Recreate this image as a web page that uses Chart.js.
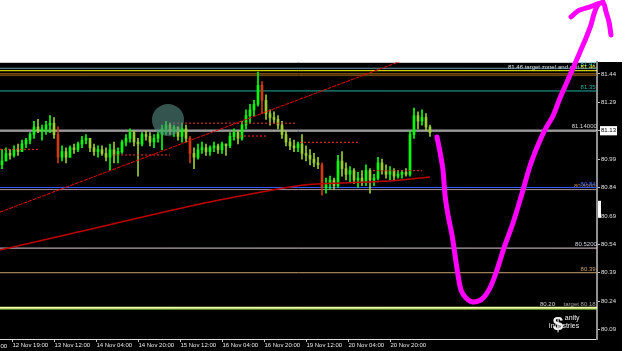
<!DOCTYPE html>
<html>
<head>
<meta charset="utf-8">
<script src="https://cdn.jsdelivr.net/npm/chart.js@4.4.0/dist/chart.umd.min.js"></script>
<style>
  html, body { margin: 0; padding: 0; background: #fff; overflow: hidden; }
  #wrap { width: 625px; height: 351px; }
</style>
</head>
<body>
<div id="wrap"><canvas id="chart" width="625" height="351"></canvas></div>
<script>
// H1 candles, one slot per bar (index 0 = left edge of the window)
const firstOpen = 80.96;
const highs = [
  81.04, 81.05, 81.04, 81.06, 81.07, 81.09, 81.10, 81.13, 81.19, 81.20,
  81.17, 81.19, 81.22, 81.21, 81.16, 81.06, 81.05, 81.06, 81.07, 81.08,
  81.11, 81.12, 81.10, 81.07, 81.06, 81.06, 81.05, 81.07, 81.08, 81.05,
  81.09, 81.12, 81.15, 81.14, 81.10, 81.13, 81.14, 81.13, 81.12, 81.14,
  81.17, 81.19, 81.18, 81.17, 81.16, 81.18, 81.17, 81.11, 81.05, 81.07,
  81.08, 81.07, 81.06, 81.08, 81.07, 81.08, 81.07, 81.13, 81.15, 81.14,
  81.19, 81.25, 81.28, 81.30, 81.45, 81.40, 81.33, 81.25, 81.24, 81.22,
  81.19, 81.14, 81.10, 81.09, 81.08, 81.12, 81.06, 81.04, 81.02, 81.00,
  80.97, 80.89, 80.90, 80.89, 81.01, 81.03, 80.97, 80.95, 80.94, 80.92,
  80.93, 80.96, 80.94, 80.91, 81.00, 80.99, 80.96, 80.95, 80.94, 80.93,
  80.93, 80.94, 81.14, 81.26, 81.24, 81.25, 81.23, 81.17
];
const lows = [
  80.94, 80.98, 80.99, 81.00, 81.01, 81.03, 81.05, 81.07, 81.10, 81.13,
  81.09, 81.12, 81.13, 81.10, 80.97, 80.98, 80.97, 81.00, 81.02, 81.03,
  81.05, 81.07, 81.03, 81.01, 81.00, 81.01, 80.98, 80.93, 80.97, 80.97,
  81.02, 81.06, 81.08, 81.06, 80.90, 81.06, 81.09, 81.06, 81.05, 81.08,
  81.04, 81.12, 81.12, 81.11, 81.09, 81.08, 81.08, 80.97, 80.94, 80.99,
  81.02, 81.01, 81.01, 81.03, 81.02, 81.02, 81.01, 81.05, 81.09, 81.07,
  81.09, 81.15, 81.18, 81.22, 81.27, 81.23, 81.20, 81.17, 81.18, 81.15,
  81.10, 81.06, 81.04, 81.03, 81.03, 80.99, 80.98, 80.96, 80.95, 80.94,
  80.80, 80.81, 80.83, 80.83, 80.84, 80.90, 80.88, 80.87, 80.86, 80.84,
  80.85, 80.85, 80.81, 80.85, 80.88, 80.91, 80.89, 80.88, 80.88, 80.89,
  80.89, 80.90, 80.90, 81.10, 81.15, 81.17, 81.14, 81.11
];
const closes = [
  80.98, 81.02, 81.01, 81.04, 81.03, 81.07, 81.09, 81.12, 81.16, 81.14,
  81.15, 81.17, 81.18, 81.12, 81.00, 81.03, 81.00, 81.05, 81.04, 81.07,
  81.09, 81.10, 81.05, 81.03, 81.04, 81.02, 81.00, 81.04, 81.01, 81.03,
  81.08, 81.10, 81.13, 81.08, 81.07, 81.12, 81.11, 81.08, 81.10, 81.12,
  81.15, 81.17, 81.14, 81.16, 81.11, 81.15, 81.10, 81.02, 81.00, 81.04,
  81.05, 81.03, 81.05, 81.06, 81.04, 81.07, 81.06, 81.11, 81.13, 81.10,
  81.17, 81.22, 81.25, 81.28, 81.38, 81.30, 81.23, 81.21, 81.20, 81.17,
  81.12, 81.08, 81.06, 81.05, 81.07, 81.02, 81.01, 80.99, 80.97, 80.96,
  80.84, 80.86, 80.88, 80.85, 80.98, 80.94, 80.91, 80.93, 80.88, 80.89,
  80.87, 80.93, 80.88, 80.89, 80.97, 80.93, 80.91, 80.93, 80.90, 80.91,
  80.92, 80.91, 81.12, 81.22, 81.19, 81.21, 81.16, 81.13
];

// time axis (first label sits left of the window and is cut off)
const timeLabels = ["12 Nov 19:00", "13 Nov 12:00", "14 Nov 04:00", "14 Nov 20:00",
  "15 Nov 12:00", "16 Nov 04:00", "16 Nov 20:00", "19 Nov 12:00", "20 Nov 04:00", "20 Nov 20:00"];
const timeTickPos = [2.6, 13.1, 23.6, 34.1, 44.6, 55.1, 65.6, 76.1, 86.6, 97.1];
const cutLabel = "12 Nov 03:00";
const cutLabelPos = -7.9;

// price axis
const priceTicks = [81.44, 81.29, 81.14, 80.99, 80.84, 80.69, 80.54, 80.39, 80.24, 80.09];
const priceTickLabels = ["81.44", "81.29", "81.13", "80.99", "80.84", "80.69", "80.54", "80.39", "80.24", "80.09"];
// scroll marker on the price scale
const markerFrom = 80.68;
const markerTo = 80.77;

// horizontal levels
const levelPrices = [81.47, 81.457, 81.44, 81.431, 81.35, 81.143, 81.136, 80.84, 80.829, 80.52, 80.39, 80.205, 80.198];

// trend line and moving average
const trendX = [-0.5, 100];
const trendY = [80.71, 81.51];
const maX = [-0.5, 24.5, 49.5, 66.25, 74.5, 84.5, 97, 107];
const maY = [80.51, 80.632, 80.753, 80.822, 80.851, 80.864, 80.875, 80.896];

// dotted stop levels
const stopPrices = [81.042, 81.012, 81.18, 81.112, 81.079, 80.929];
const stopFrom = [-0.5, 27.75, 42.75, 59.5, 74.5, 92.75];
const stopTo = [9.5, 42, 73.5, 66.5, 89, 105];

// hand drawn forecast
const penX = [108.75, 109.5, 110.25, 110.75, 111.5, 112.5, 113.25, 114, 114.75, 116, 117.75, 120, 122, 123.75,
  125.5, 127.75, 129.75, 132, 134, 136, 137.75, 139.5, 141.25, 143, 144.5, 146, 147.25, 148, 149, 150.25,
  150.25, 142.25, 144, 147, 150.25, 151, 151.75, 152.25];
const penY = [81.107, 81.028, 80.933, 80.801, 80.695, 80.589, 80.484, 80.378, 80.299, 80.257, 80.236, 80.251, 80.31, 80.405,
  80.521, 80.653, 80.79, 80.954, 81.065, 81.155, 81.218, 81.313, 81.398, 81.482, 81.556, 81.63, 81.699, 81.757, 81.805, 81.82,
  null, 81.741, 81.773, 81.794, 81.815, 81.768, 81.715, 81.646];

// circle marker
const circleX = [41.5];
const circleY = [81.197];

// notes written on the levels
const noteTexts = ["81.47", "81.46 target zone! and exit", "81.46", "81.35", "81.14000", "80.8300", "80.84", "80.5200", "80.39", "80.20", "target 80.18"];
const notePrices = [81.47, 81.457, 81.457, 81.35, 81.143, 80.829, 80.84, 80.52, 80.39, 80.205, 80.205];
const noteX = [148.4, 126.5, 148.4, 148.4, 148.7, 148.4, 148.4, 148.7, 148.4, 134.5, 148.4];

const opens = closes.map((c, i) => i === 0 ? firstOpen : closes[i - 1]);

function candleColor(i) {
  if (closes[i] >= opens[i]) return '#00ff00';
  if (opens[i] - closes[i] > 0.07) return '#d03a10';
  return '#9acd32';
}

const levelColors = ['#6fa0b0', '#ffff00', '#c87f1e', '#7a4a10', '#20b0a0', '#e8e8e8', '#8a8a8a',
  '#2a5cff', '#b09098', '#e0d0d0', '#c8a070', '#f0ffa0', '#90e040'];
const noteColors = ['#40d0d0', '#e8e8e8', '#ffff00', '#20b0a0', '#d8d8d8', '#c08040', '#3a6aff', '#d8d8e8', '#d0a060', '#d0d0d0', '#a0a0a0'];
const noteAlign = ['right', 'left', 'right', 'right', 'right', 'right', 'right', 'right', 'right', 'left', 'right'];

const datasets = [];

datasets.push({
  type: 'bar',
  data: closes.map((c, i) => ({ x: i, y: [lows[i], highs[i]] })),
  backgroundColor: ctx => candleColor(ctx.dataIndex),
  barThickness: 1,
  grouped: false,
  minBarLength: 1,
  order: 5
});
datasets.push({
  type: 'bar',
  data: closes.map((c, i) => ({ x: i, y: [opens[i], c] })),
  backgroundColor: ctx => candleColor(ctx.dataIndex),
  barThickness: 2,
  grouped: false,
  minBarLength: 1,
  order: 4
});

levelPrices.forEach((p, i) => {
  datasets.push({
    type: 'line',
    data: [{ x: -0.5, y: p }, { x: 148.75, y: p }],
    borderColor: levelColors[i],
    borderWidth: i === 11 ? 2 : 1,
    pointRadius: 0,
    order: 8
  });
});

stopPrices.forEach((p, i) => {
  datasets.push({
    type: 'line',
    data: [{ x: stopFrom[i], y: p }, { x: stopTo[i], y: p }],
    borderColor: '#ff2a2a',
    borderWidth: 1,
    borderDash: [2, 2],
    pointRadius: 0,
    order: 3
  });
});

datasets.push({
  type: 'line',
  data: maX.map((x, i) => ({ x: x, y: maY[i] })),
  borderColor: '#c00000',
  borderWidth: 1.5,
  pointRadius: 0,
  tension: 0.3,
  order: 3
});
datasets.push({
  type: 'line',
  data: trendX.map((x, i) => ({ x: x, y: trendY[i] })),
  borderColor: '#f00000',
  borderWidth: 1,
  borderDash: [4, 1],
  pointRadius: 0,
  order: 2
});

datasets.push({
  type: 'bubble',
  data: circleX.map((x, i) => ({ x: x, y: circleY[i] })),
  radius: 16,
  backgroundColor: 'rgba(85,140,132,0.6)',
  borderWidth: 0,
  order: 1
});

datasets.push({
  type: 'line',
  data: penX.map((x, i) => ({ x: x, y: penY[i] })),
  borderColor: '#ff00ff',
  borderWidth: 5,
  borderCapStyle: 'round',
  borderJoinStyle: 'round',
  pointRadius: 0,
  tension: 0.3,
  spanGaps: false,
  clip: false,
  order: 0
});

const frame = {
  id: 'frame',
  beforeDraw(chart) {
    const ctx = chart.ctx;
    const a = chart.chartArea;
    ctx.save();
    ctx.fillStyle = '#fff';
    ctx.fillRect(0, 0, chart.width, chart.height);
    ctx.fillStyle = '#000';
    ctx.fillRect(0, a.top, chart.width - 3, chart.height - a.top);
    ctx.strokeStyle = '#c8c8c8';
    ctx.lineWidth = 1;
    ctx.beginPath();
    ctx.moveTo(0, a.top + 0.5);
    ctx.lineTo(a.right, a.top + 0.5);
    ctx.stroke();
    ctx.restore();
  },
  beforeDatasetsDraw(chart) {
    const ctx = chart.ctx;
    const x = chart.scales.x;
    const y = chart.scales.y;
    ctx.save();
    ctx.font = '6px "Liberation Sans"';
    noteTexts.forEach((t, i) => {
      ctx.fillStyle = noteColors[i];
      ctx.textAlign = noteAlign[i];
      ctx.fillText(t, x.getPixelForValue(noteX[i]), y.getPixelForValue(notePrices[i]) - 2);
    });
    // cut-off time label at the left edge
    ctx.fillStyle = '#e8e8e8';
    ctx.textAlign = 'left';
    ctx.fillText(cutLabel, x.getPixelForValue(cutLabelPos) + 1, x.top + 9);
    // white scroll marker on the price scale
    ctx.fillStyle = '#ffffff';
    const mTop = y.getPixelForValue(markerTo);
    ctx.fillRect(y.left + 1, mTop, 3, y.getPixelForValue(markerFrom) - mTop);
    // watermark
    ctx.fillStyle = '#f0f0f0';
    ctx.font = '7px "Liberation Sans"';
    ctx.fillText('anity', x.getPixelForValue(140.7), y.getPixelForValue(80.14));
    ctx.fillText('Industries', x.getPixelForValue(136.7), y.getPixelForValue(80.10));
    ctx.font = 'bold 19px "Liberation Sans"';
    ctx.fillText('$', x.getPixelForValue(137.7), y.getPixelForValue(80.085));
    ctx.restore();
  }
};

new Chart(document.getElementById('chart'), {
  type: 'bar',
  data: { datasets: datasets },
  options: {
    responsive: false,
    animation: false,
    events: [],
    layout: { autoPadding: false, padding: { top: 62, left: 0, right: 0, bottom: 0 } },
    plugins: { legend: { display: false }, tooltip: { enabled: false } },
    scales: {
      x: {
        type: 'linear',
        min: -0.5,
        max: 148.75,
        offset: false,
        afterBuildTicks: s => { s.ticks = timeTickPos.map(v => ({ value: v })); },
        afterFit: s => { s.height = 12; s.paddingLeft = 0; s.paddingRight = 0; },
        ticks: {
          callback: (v, i) => timeLabels[i],
          align: 'start',
          maxRotation: 0,
          autoSkip: false,
          padding: 0,
          color: '#e8e8e8',
          font: { family: 'Liberation Sans', size: 6 }
        },
        grid: { drawOnChartArea: false, offset: false, tickLength: 3, color: '#c0c0c0' },
        border: { color: '#e0e0e0' }
      },
      y: {
        position: 'right',
        min: 80.04,
        max: 81.503,
        afterBuildTicks: s => { s.ticks = priceTicks.map(v => ({ value: v })); },
        afterFit: s => { s.width = 28; s.paddingTop = 0; s.paddingBottom = 0; },
        ticks: {
          callback: (v, i) => priceTickLabels[i],
          padding: 1,
          color: c => c.index === 2 ? '#000' : '#e0e0e0',
          showLabelBackdrop: c => c.index === 2,
          backdropColor: '#fff',
          backdropPadding: { x: 1, y: 1 },
          font: { family: 'Liberation Sans', size: 6 }
        },
        grid: { drawOnChartArea: false, tickLength: 3, color: '#c0c0c0' },
        border: { color: '#909090', width: 2 }
      }
    }
  },
  plugins: [frame]
});
</script>
</body>
</html>
